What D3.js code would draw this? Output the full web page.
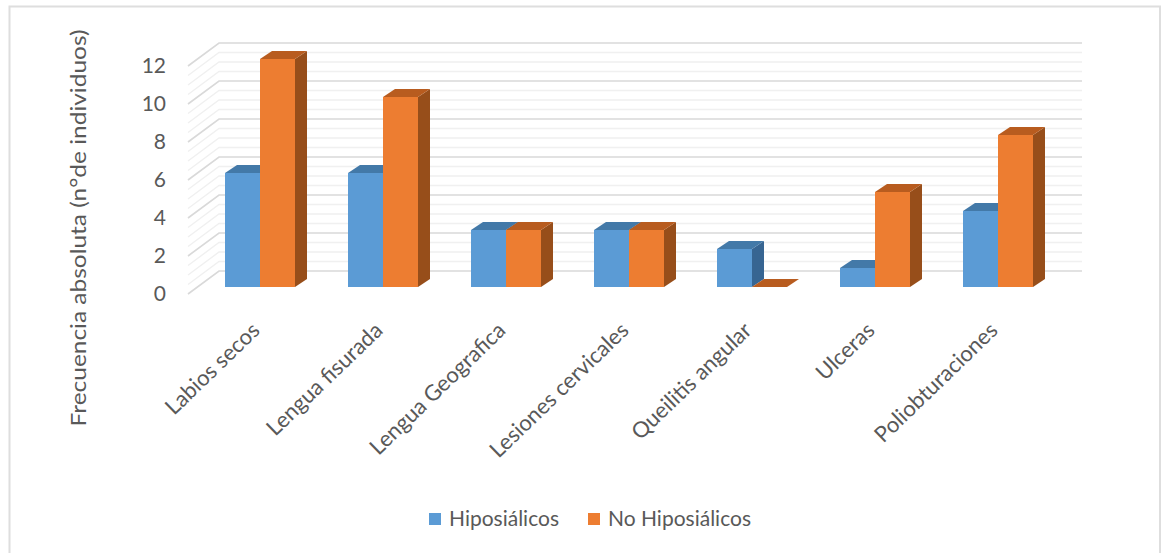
<!DOCTYPE html>
<html lang="es">
<head>
<meta charset="utf-8">
<title>Frecuencia absoluta</title>
<script src="https://cdn.jsdelivr.net/npm/d3@7/dist/d3.min.js"></script>
<style>
  html, body { margin: 0; padding: 0; background: #fff; }
  svg { display: block; }
  text { font-family: Lato, "Open Sans", sans-serif; fill: #595959; }
</style>
</head>
<body>
<svg id="chart" width="1161" height="553"></svg>
<script>
const categories = ["Labios secos", "Lengua fisurada", "Lengua Geografica", "Lesiones cervicales", "Queilitis angular", "Ulceras", "Poliobturaciones"];
const seriesNames = ["Hiposiálicos", "No Hiposiálicos"];
const hiposialicos = [6, 6, 3, 3, 2, 1, 4];
const noHiposialicos = [12, 10, 3, 3, 0, 5, 8];
const yTickValues = [0, 2, 4, 6, 8, 10, 12];
const yAxisTitle = "Frecuencia absoluta (n°de individuos)";

const seriesColors = [
  { front: "#5B9BD5", top: "#4379A8", side: "#376592" },
  { front: "#ED7D31", top: "#B85C1F", side: "#974E1A" }
];

const svg = d3.select("#chart");

// Chart frame
svg.append("path")
  .attr("d", "M9.5,553V6.5H1160V553")
  .attr("fill", "none").attr("stroke", "#dedede").attr("stroke-width", 2);

const y = d3.scaleLinear().domain([0, 12]).range([287, 59]);
const x0 = d3.scaleBand().domain(categories).range([198.5, 1059.5])
  .paddingInner(53 / 123).paddingOuter(26.5 / 123);
const x1 = d3.scaleBand().domain(d3.range(seriesNames.length)).range([0, x0.bandwidth()]);

// Offsets of the pseudo-3D projection
const wall = { front: 188, back: 219, right: 1082, frontDrop: 7, backRise: -16 };
const depth = { dx: 12, dy: -8 };

// Back wall and side wall gridlines: majors every 2, minors every 0.5
const gridValues = d3.range(0, 12.01, 0.5);
const isMajor = v => v % 2 === 0;
const grid = svg.append("g").attr("fill", "none");
grid.selectAll("path").data(gridValues).join("path")
  .attr("d", v => {
    const yBack = y(v) + wall.backRise, yFront = y(v) + wall.frontDrop;
    return `M${wall.front},${yFront}L${wall.back},${yBack}H${wall.right}`;
  })
  .attr("stroke", v => isMajor(v) ? "#d9d9d9" : "#f0f0f0")
  .attr("stroke-width", v => isMajor(v) ? 1.6 : 1.4);

// Bars: one front face, one top face and one side face per value
const groups = svg.append("g").selectAll("g").data(categories).join("g")
  .attr("transform", c => `translate(${x0(c)},0)`);

[hiposialicos, noHiposialicos].forEach((values, s) => {
  const w = x1.bandwidth();
  const c = seriesColors[s];
  const bars = groups.append("g").datum((_, i) => values[i]);
  bars.append("path").attr("fill", c.side)
    .attr("d", v => `M${x1(s) + w},${y(0)}v${-(y(0) - y(v))}l${depth.dx},${depth.dy}V${y(0) + depth.dy}Z`);
  bars.append("path").attr("fill", c.top)
    .attr("d", v => `M${x1(s)},${y(v)}l${depth.dx},${depth.dy}h${w}l${-depth.dx},${-depth.dy}Z`);
  bars.append("rect").attr("fill", c.front)
    .attr("x", x1(s)).attr("width", w)
    .attr("y", v => y(v)).attr("height", v => y(0) - y(v));
});

// Value axis labels
const yAxis = d3.axisLeft(y).tickValues(yTickValues).tickSize(0).tickPadding(0);
svg.append("g").attr("transform", "translate(166,7)").call(yAxis)
  .call(g => g.select(".domain").remove())
  .selectAll("text").attr("font-size", 21).style("font-family", "Lato, sans-serif").attr("fill", "#595959");

// Category labels, rotated along the diagonal
svg.append("g").selectAll("text").data(categories).join("text")
  .attr("transform", c => `translate(${x0(c) + x0.bandwidth() / 2 + 1},332) rotate(-44)`)
  .attr("text-anchor", "end")
  .attr("font-size", 22)
  .text(c => c);

// Value axis title
svg.append("text")
  .attr("transform", "translate(86,228) rotate(-90)")
  .attr("text-anchor", "middle")
  .attr("font-size", 22)
  .attr("textLength", 397)
  .attr("lengthAdjust", "spacingAndGlyphs")
  .text(yAxisTitle);

// Legend
const legendX = [429, 588];
const legend = svg.append("g").selectAll("g").data(seriesNames).join("g")
  .attr("transform", (_, i) => `translate(${legendX[i]},513)`);
legend.append("rect").attr("width", 12).attr("height", 12)
  .attr("fill", (_, i) => seriesColors[i].front);
legend.append("text").attr("x", 20).attr("y", 13)
  .attr("font-size", 21).text(d => d);
</script>
</body>
</html>
